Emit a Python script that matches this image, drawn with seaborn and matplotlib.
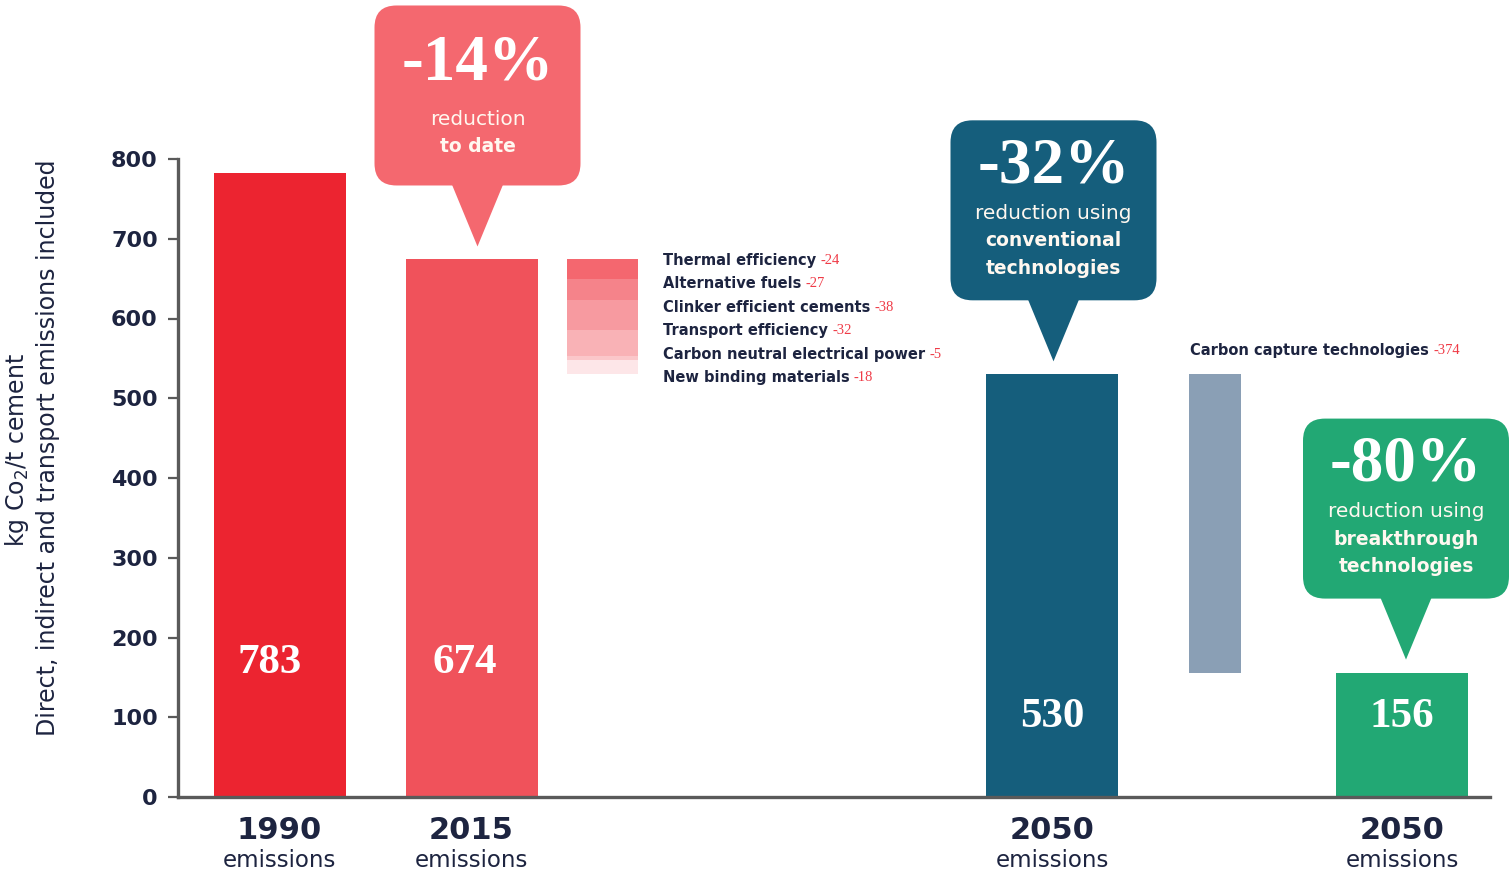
import matplotlib
matplotlib.use("Agg")
import matplotlib.pyplot as plt
import seaborn as sns
import pandas as pd
import numpy as np
from matplotlib.patches import FancyBboxPatch, Polygon
from matplotlib.transforms import IdentityTransform

# ---- data -------------------------------------------------------------
scenarios = ["1990", "2015", "2050 conventional", "2050 breakthrough"]
year_labels = ["1990", "2015", "2050", "2050"]
totals = [783, 674, 530, 156]
bar_colors = ["#ec2430", "#f0525b", "#155e7c", "#22a874"]

levers = ["Thermal efficiency", "Alternative fuels", "Clinker efficient cements",
          "Transport efficiency", "Carbon neutral electrical power",
          "New binding materials"]
lever_savings = [24, 27, 38, 32, 5, 18]
lever_colors = ["#f4676f", "#f5838a", "#f79aa0", "#f9b2b6", "#fbc7ca", "#fde6e8"]

capture_label = "Carbon capture technologies"
capture_saving = 374
capture_color = "#8a9fb5"

callout_pct = ["-14%", "-32%", "-80%"]
callout_lines = [["reduction", "to date"],
                 ["reduction using", "conventional", "technologies"],
                 ["reduction using", "breakthrough", "technologies"]]
callout_colors = ["#f4686f", "#155e7c", "#22a874"]
callout_bars = [1, 2, 3]

yticks = [0, 100, 200, 300, 400, 500, 600, 700, 800]

# ---- layout -----------------------------------------------------------
bar_x = [279.5, 471.5, 1052.5, 1402.0]
bar_w = 132
lever_x, lever_w = 602.5, 71
capture_x, capture_w = 1215, 52
value_label_y = [168, 168, 100, 100]
value_label_dx = [-10, -7, 0, 0]     # pixel nudges for the in-bar numbers
callout_dx = [6, 1, 4]               # pixel nudges for the bubbles

DARK = "#1d2440"
AXIS = "#5a5a5a"
SERIF = "Liberation Serif"
SANS = "DejaVu Sans"

sns.set_style("white")
plt.rcParams["font.family"] = [SANS]

fig = plt.figure(figsize=(15.12, 8.74), dpi=100)
ax = fig.add_axes([178 / 1512, 77 / 874, (1490 - 178) / 1512, (797 - 159) / 874])

df = pd.DataFrame({"scenario": scenarios, "pos": bar_x, "total": totals})
min_gap = np.diff(sorted(bar_x)).min()
sns.barplot(data=df, x="pos", y="total", hue="scenario",
            palette=dict(zip(scenarios, bar_colors)), native_scale=True,
            width=bar_w / min_gap, dodge=False, saturation=1, legend=False,
            ax=ax, linewidth=0)

# reduction levers stacked down from the 2015 level
top = totals[1]
for s, c in zip(lever_savings, lever_colors):
    ax.bar(lever_x, -s, bottom=top, width=lever_w, color=c, linewidth=0)
    top -= s

# carbon capture floating bar
ax.bar(capture_x, -capture_saving, bottom=totals[2], width=capture_w,
       color=capture_color, linewidth=0)

ax.set_xlim(178, 1490)
ax.set_ylim(0, 800)
ax.set_xlabel("")
ax.set_ylabel("")

# axes styling
for side in ["top", "right"]:
    ax.spines[side].set_visible(False)
for side in ["left", "bottom"]:
    ax.spines[side].set_color(AXIS)
    ax.spines[side].set_linewidth(2.4)
ax.set_yticks(yticks)
ax.set_yticklabels([str(t) for t in yticks], fontsize=16, fontweight="bold",
                   color=DARK)
ax.tick_params(axis="y", length=7.5, width=1.6, color=AXIS, pad=7, left=True)
ax.set_xticks(bar_x)
ax.set_xticklabels(year_labels, fontsize=22, fontweight="bold", color=DARK)
ax.tick_params(axis="x", length=0, pad=14)
for x in bar_x:
    ax.annotate("emissions", xy=(x, 0), xycoords="data", xytext=(0, -46),
                textcoords="offset points", ha="center", va="center",
                fontsize=16.5, color=DARK, annotation_clip=False)

# values inside the bars
for x, v, ly, dx in zip(bar_x, totals, value_label_y, value_label_dx):
    ax.text(x + dx, ly, str(v), ha="center", va="center", color="white",
            fontsize=31, fontweight="bold", family=SERIF)

# lever labels
lever_label_x = 663
for i, (name, s) in enumerate(zip(levers, lever_savings)):
    t = ax.text(lever_label_x, 673 - i * 29.4, name, ha="left", va="center",
                fontsize=10.5, fontweight="bold", color=DARK)
    ax.annotate(f"-{s}", xy=(1, 0.5), xycoords=t, xytext=(3, 0),
                textcoords="offset points", ha="left", va="center",
                fontsize=10.5, color="#ef3b47", family=SERIF)

t = ax.text(1190, 560, capture_label, ha="left", va="center",
            fontsize=10.5, fontweight="bold", color=DARK)
ax.annotate(f"-{capture_saving}", xy=(1, 0.5), xycoords=t, xytext=(3, 0),
            textcoords="offset points", ha="left", va="center",
            fontsize=10.5, color="#ef3b47", family=SERIF)

# y axis title (two lines)
fig.text(17 / 1512, 1 - 450 / 874, "kg Co$_2$/t cement", rotation=90,
         ha="center", va="center", fontsize=17, color=DARK)
fig.text(48 / 1512, 1 - 448 / 874,
         "Direct, indirect and transport emissions included", rotation=90,
         ha="center", va="center", fontsize=17, color=DARK)


def callout(idx):
    """Speech-bubble callout pointing at the top of a bar."""
    b = callout_bars[idx]
    tx, ty = ax.transData.transform((bar_x[b], totals[b]))
    tx += callout_dx[idx]
    ty += 13
    w, h, ph, pw, r = 206, 180, 61, 52, 22
    bottom = ty + ph
    left = tx - w / 2
    color = callout_colors[idx]
    ident = IdentityTransform()
    box = FancyBboxPatch((left, bottom), w, h,
                         boxstyle=f"round,pad=0,rounding_size={r}",
                         transform=ident, facecolor=color, edgecolor="none")
    tri = Polygon([[tx - pw / 2, bottom + 2], [tx + pw / 2, bottom + 2], [tx, ty]],
                  closed=True, transform=ident, facecolor=color, edgecolor="none")
    fig.add_artist(box)
    fig.add_artist(tri)
    topy = bottom + h
    lines = callout_lines[idx]
    n = len(lines)
    big_off = 46 + (3 - n) * 12
    line0 = 93 + (3 - n) * 21
    fig.text(tx, topy - big_off, callout_pct[idx], transform=ident, ha="center",
             va="center", color="white", fontsize=47, fontweight="bold",
             family=SERIF)
    for i, s in enumerate(lines):
        fig.text(tx, topy - line0 - 27.5 * i, s, transform=ident, ha="center",
                 va="center", color="#fff8f0", fontsize=14.5 if i == 0 else 13.5,
                 fontweight="normal" if i == 0 else "bold")


for k in range(len(callout_pct)):
    callout(k)

fig.savefig("out.png", dpi=100)
